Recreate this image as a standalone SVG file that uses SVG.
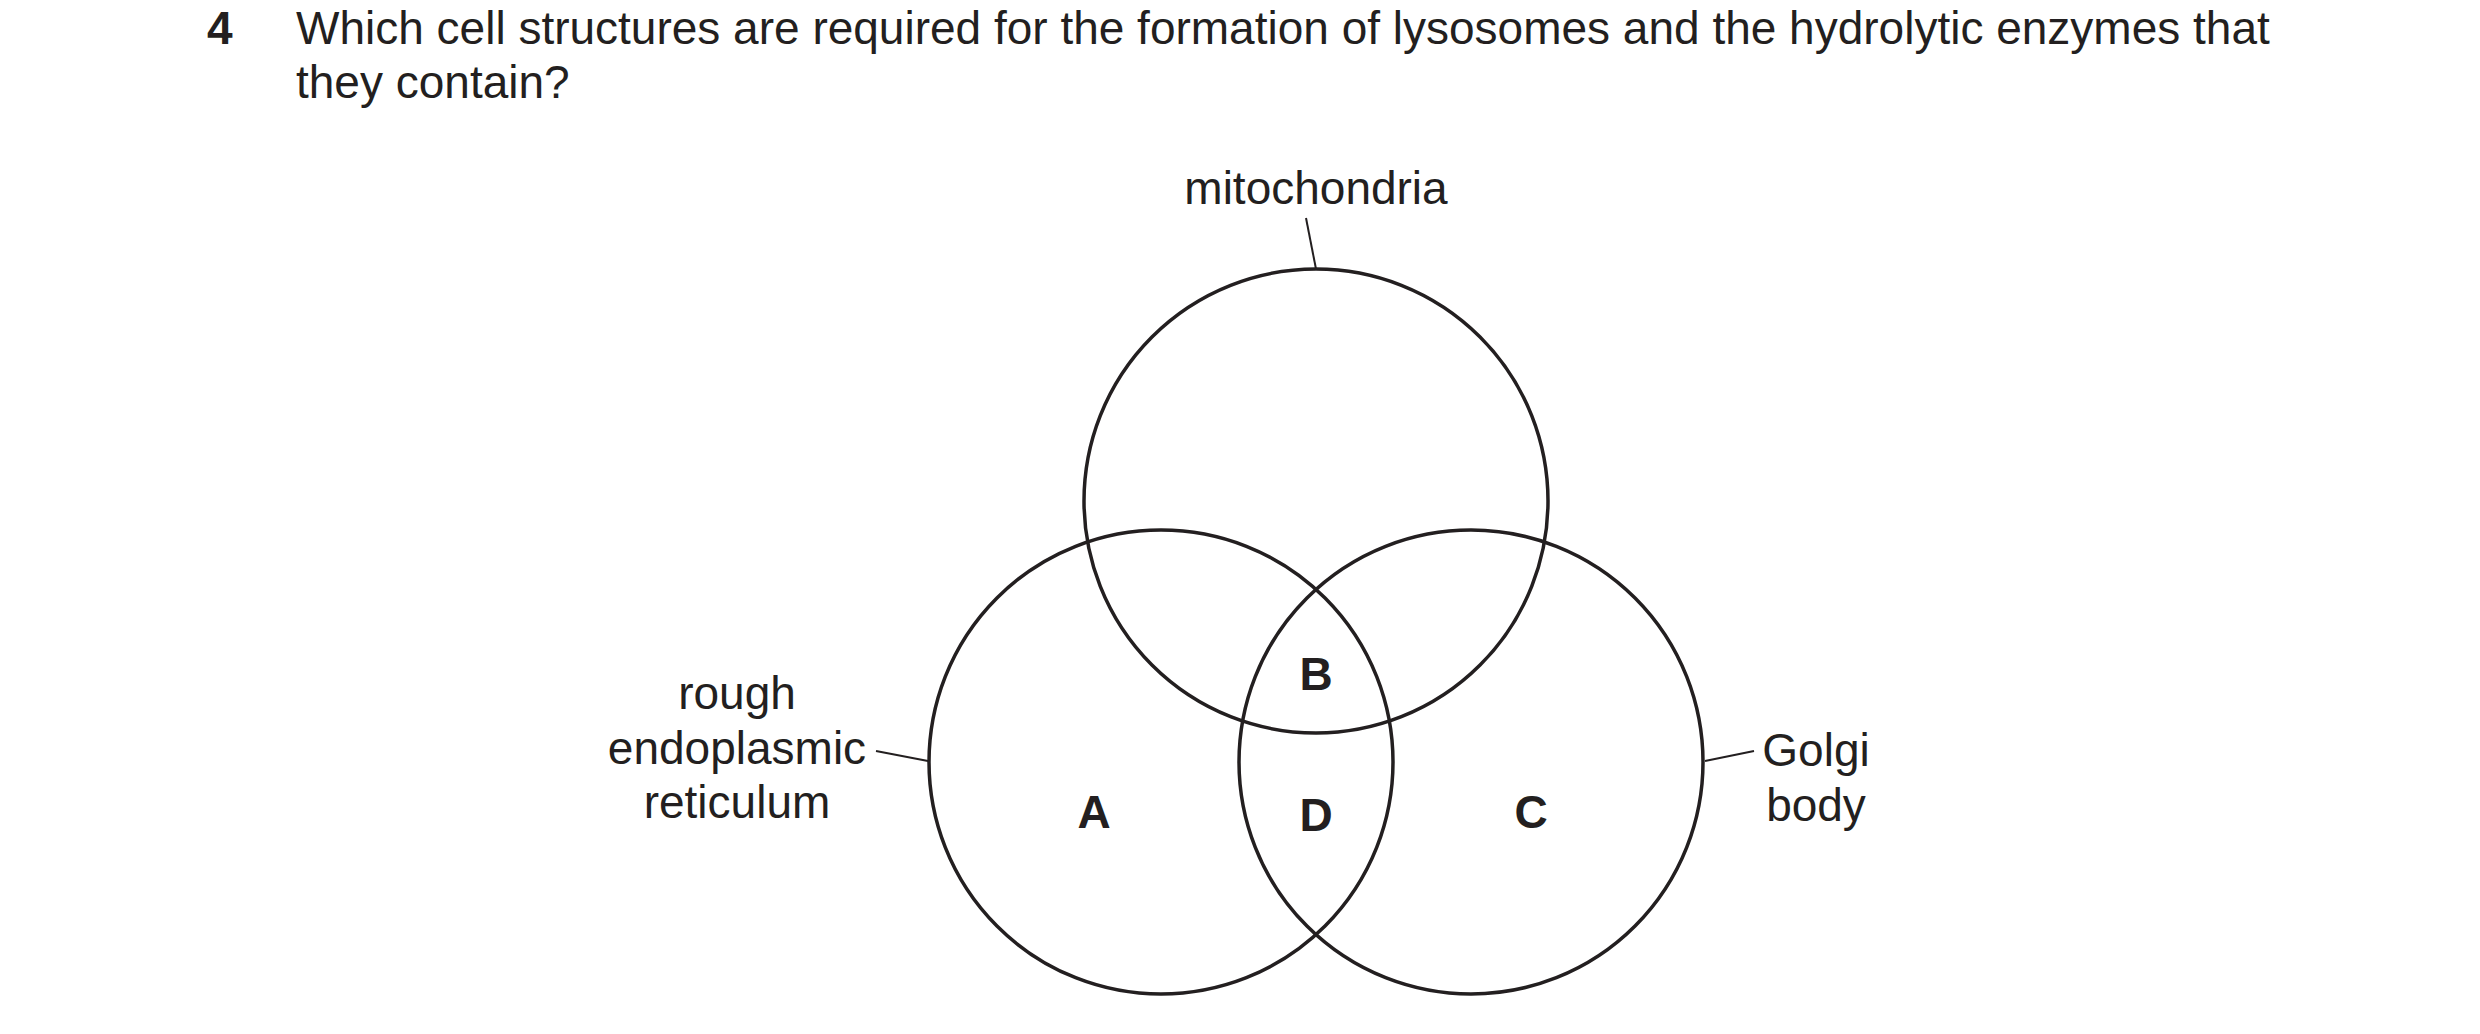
<svg xmlns="http://www.w3.org/2000/svg" width="2480" height="1034" viewBox="0 0 2480 1034">
<style>
text{font-family:"Liberation Sans",Arial,sans-serif;font-size:46px;fill:#231f20}
.c{fill:none;stroke:#231f20;stroke-width:3.5}
.b{font-weight:bold;text-anchor:middle}
.m{text-anchor:middle}
line{stroke:#231f20;stroke-width:2}
</style>
<rect width="2480" height="1034" fill="#fff"/>
<text x="207" y="44" font-weight="bold">4</text>
<text x="296" y="44">Which cell structures are required for the formation of lysosomes and the hydrolytic enzymes that</text>
<text x="296" y="98">they contain?</text>
<g id="connectors">
<line x1="1306" y1="218" x2="1316" y2="269"/>
<line x1="876" y1="751" x2="928" y2="761"/>
<line x1="1705" y1="761" x2="1754" y2="751"/>
</g>
<g id="mitochondria"><circle class="c" cx="1316" cy="501" r="232"/><text class="m" x="1316" y="204">mitochondria</text></g>
<g id="rer"><circle class="c" cx="1161" cy="762" r="232"/><text class="m" x="737" y="709">rough</text><text class="m" x="737" y="764">endoplasmic</text><text class="m" x="737" y="818">reticulum</text></g>
<g id="golgi"><circle class="c" cx="1471" cy="762" r="232"/><text class="m" x="1816" y="766">Golgi</text><text class="m" x="1816" y="821">body</text></g>
<g id="labels">
<text class="b" x="1316" y="690">B</text>
<text class="b" x="1094" y="828">A</text>
<text class="b" x="1316" y="831">D</text>
<text class="b" x="1531" y="828">C</text>
</g>
</svg>
